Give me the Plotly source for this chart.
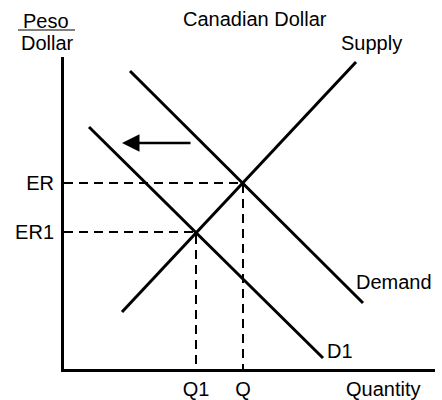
import plotly.graph_objects as go

# Data (economic units on notional axes)
supply_q = [5.8, 29.2]
supply_p = [5.7, 30.7]
demand_q = [6.6, 29.9]
demand_p = [29.8, 6.6]
d1_q = [2.5, 25.9]
d1_p = [24.2, 1.1]
ER, ER1 = 18.6, 13.7
Q, Q1 = 17.9, 13.2
arrow_from = (12.8, 22.6)
arrow_to = (5.8, 22.6)
price_ticks = [ER, ER1]
price_labels = ["ER", "ER1"]
qty_ticks = [Q1, Q]
qty_labels = ["Q1", "Q"]

W, H = 442, 400
L, R, T, B = 64, 7, 57, 31
PW, PH = W - L - R, H - T - B

def px(x):
    return (x - L) / PW

def py(y):
    return (H - B - y) / PH

FONT = dict(family="Liberation Sans, Arial, sans-serif", size=20, color="black")

fig = go.Figure()
solid = dict(color="black", width=3)
dashed = dict(color="black", width=2, dash="9px,6px")
fig.add_trace(go.Scatter(x=supply_q, y=supply_p, mode="lines", line=solid))
fig.add_trace(go.Scatter(x=demand_q, y=demand_p, mode="lines", line=solid))
fig.add_trace(go.Scatter(x=d1_q, y=d1_p, mode="lines", line=solid))
fig.add_trace(go.Scatter(x=[0, Q, Q], y=[ER, ER, 0], mode="lines", line=dashed))
fig.add_trace(go.Scatter(x=[0, Q1, Q1], y=[ER1, ER1, 0], mode="lines", line=dashed))

annotations = [
    dict(x=arrow_to[0], y=arrow_to[1], ax=arrow_from[0], ay=arrow_from[1],
         xref="x", yref="y", axref="x", ayref="y", text="", showarrow=True,
         arrowhead=2, arrowsize=1.4, arrowwidth=2.5, arrowcolor="black"),
]
labels = [
    ("Peso", 46, 21),
    ("Dollar", 47, 43),
    ("Canadian Dollar", 255, 19),
    ("Supply", 371, 43),
    ("Demand", 394, 282),
    ("D1", 340, 351),
    ("Quantity", 383, 389),
]
for t, x, y in labels:
    annotations.append(dict(text=t, x=px(x), y=py(y), xref="paper", yref="paper",
                            xanchor="center", yanchor="middle", showarrow=False,
                            font=FONT))

fig.update_layout(
    width=W, height=H,
    margin=dict(l=L, r=R, t=T, b=B, autoexpand=False),
    paper_bgcolor="white", plot_bgcolor="white",
    showlegend=False,
    annotations=annotations,
    shapes=[dict(type="line", xref="paper", yref="paper",
                 x0=px(18), x1=px(75), y0=py(30), y1=py(30),
                 line=dict(color="#555", width=1.5))],
    xaxis=dict(range=[0, PW / 10], showline=True, linecolor="black", linewidth=3,
               showgrid=False, zeroline=False, ticks="", tickvals=qty_ticks,
               ticktext=qty_labels, tickfont=FONT, ticklabelstandoff=0,
               automargin=False),
    yaxis=dict(range=[0, PH / 10], showline=True, linecolor="black", linewidth=3,
               showgrid=False, zeroline=False, ticks="", tickvals=price_ticks,
               ticktext=price_labels, tickfont=FONT, ticklabelstandoff=3,
               automargin=False),
)
fig.write_html("out.html", config={"displayModeBar": False},
               post_script="document.body.style.margin='0';document.body.style.overflow='hidden';")
